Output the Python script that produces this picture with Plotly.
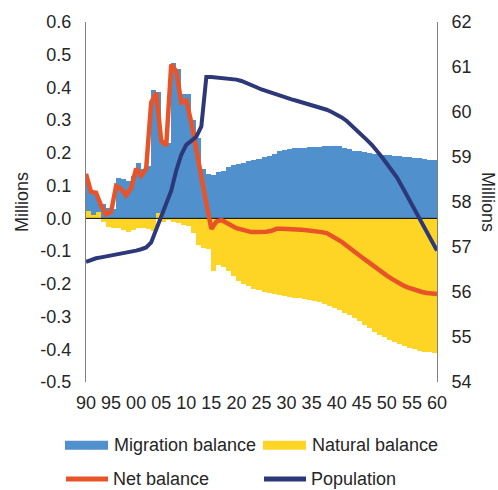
import plotly.graph_objects as go

years = list(range(1990, 2061))

migration = [0.087, 0.070, 0.040, 0.045, 0.032, 0.030, 0.123, 0.120, 0.115, 0.130,
             0.169, 0.152, 0.160, 0.392, 0.371, 0.240, 0.230, 0.475, 0.455, 0.379,
             0.380, 0.300, 0.245, 0.150, 0.136, 0.133, 0.143, 0.146, 0.157, 0.162,
             0.165, 0.170, 0.174, 0.177, 0.182, 0.187, 0.192, 0.197, 0.207, 0.210,
             0.212, 0.214, 0.215, 0.216, 0.217, 0.218, 0.219, 0.220, 0.221, 0.221,
             0.220, 0.216, 0.211, 0.207, 0.205, 0.203, 0.200, 0.198, 0.197, 0.195,
             0.193, 0.192, 0.190, 0.189, 0.187, 0.185, 0.183, 0.181, 0.179, 0.177,
             0.176]

natural = [0.022, 0.011, 0.020, -0.010, -0.025, -0.030, -0.028, -0.035, -0.042, -0.035,
           -0.030, -0.030, -0.032, -0.038, 0.015, -0.010, -0.005, -0.012, -0.015, -0.020,
           -0.022, -0.045, -0.081, -0.091, -0.095, -0.162, -0.143, -0.149, -0.162, -0.177,
           -0.190, -0.200, -0.208, -0.215, -0.220, -0.225, -0.228, -0.232, -0.234, -0.237,
           -0.239, -0.242, -0.244, -0.246, -0.249, -0.252, -0.256, -0.261, -0.267, -0.274,
           -0.281, -0.289, -0.296, -0.305, -0.315, -0.325, -0.336, -0.346, -0.356, -0.364,
           -0.371, -0.377, -0.383, -0.389, -0.395, -0.400, -0.404, -0.407, -0.409, -0.410,
           -0.410]

net = [0.136, 0.081, 0.078, 0.040, 0.012, 0.020, 0.099, 0.090, 0.071, 0.093,
       0.152, 0.130, 0.152, 0.354, 0.384, 0.238, 0.222, 0.470, 0.450, 0.354,
       0.360, 0.293, 0.210, 0.120, 0.045, -0.032, -0.010, -0.005, -0.015, -0.022,
       -0.030, -0.035, -0.040, -0.042, -0.042, -0.042, -0.041, -0.038, -0.032, -0.032,
       -0.032, -0.033, -0.034, -0.035, -0.036, -0.037, -0.039, -0.042, -0.045, -0.053,
       -0.062, -0.072, -0.084, -0.097, -0.108, -0.119, -0.130, -0.142, -0.154, -0.165,
       -0.175, -0.185, -0.195, -0.203, -0.210, -0.216, -0.221, -0.225, -0.228, -0.230,
       -0.231]

population = [56.67, 56.72, 56.75, 56.77, 56.79, 56.81, 56.83, 56.84, 56.86, 56.89,
              56.92, 56.95, 56.99, 57.10, 57.38, 57.68, 57.98, 58.25, 58.70, 59.05,
              59.27, 59.36, 59.45, 59.68, 60.78, 60.78, 60.77, 60.76, 60.75, 60.74,
              60.72, 60.69, 60.65, 60.60, 60.55, 60.50, 60.46, 60.42, 60.38, 60.35,
              60.31, 60.28, 60.25, 60.22, 60.18, 60.15, 60.12, 60.08, 60.05, 60.00,
              59.95, 59.88, 59.80, 59.70, 59.60, 59.50, 59.38, 59.27, 59.15, 59.00,
              58.85, 58.70, 58.55, 58.35, 58.15, 57.95, 57.75, 57.54, 57.35, 57.13,
              56.92]

x_ticks = list(range(1990, 2061, 5))
x_labels = ["90", "95", "00", "05", "10", "15", "20", "25", "30", "35", "40", "45", "50", "55", "60"]
y_ticks = [0.6, 0.5, 0.4, 0.3, 0.2, 0.1, 0.0, -0.1, -0.2, -0.3, -0.4, -0.5]
y_labels = ["0.6", "0.5", "0.4", "0.3", "0.2", "0.1", "0.0", "-0.1", "-0.2", "-0.3", "-0.4", "-0.5"]

BLUE = "#4f90cd"
YELLOW = "#fed524"
RED = "#e85428"
NAVY = "#2d3879"
TXT = "#262626"
FONT = "Liberation Sans, Arial, sans-serif"

W, H = 498, 490
L, R, T, B = 86, 61, 18, 108
PW, PH = W - L - R, H - T - B


def px(x):
    return (x - L) / PW


def py(y):
    return (H - B - y) / PH


fig = go.Figure()
# natural first so its positive values sit at the base of the stack
fig.add_trace(go.Bar(x=years, y=natural, name="Natural balance", marker=dict(color=YELLOW, line=dict(width=0)),
                     offset=0, width=1))
fig.add_trace(go.Bar(x=years, y=migration, name="Migration balance", marker=dict(color=BLUE, line=dict(width=0)),
                     offset=0, width=1))
fig.add_trace(go.Scatter(x=[years[0], years[-1]], y=[0, 0], mode="lines",
                         line=dict(color="black", width=1), hoverinfo="skip"))
fig.add_trace(go.Scatter(x=years, y=net, name="Net balance", mode="lines",
                         line=dict(color=RED, width=4.5)))
fig.add_trace(go.Scatter(x=years, y=population, name="Population", mode="lines", yaxis="y2",
                         line=dict(color=NAVY, width=4)))

# hand-made legend (two columns, wide swatches)
legend_rows = [
    ("Migration balance", BLUE, "rect", 65, 446),
    ("Natural balance", YELLOW, "rect", 263, 446),
    ("Net balance", RED, "line", 64, 480),
    ("Population", NAVY, "line", 262, 480),
]
shapes = []
annotations = []
for label, col, kind, x0, yc in legend_rows:
    if kind == "rect":
        shapes.append(dict(type="rect", xref="paper", yref="paper", x0=px(x0), x1=px(x0 + 43),
                           y0=py(yc - 4.5), y1=py(yc + 4.5), fillcolor=col, line=dict(width=0)))
    else:
        shapes.append(dict(type="line", xref="paper", yref="paper", x0=px(x0 + 2), x1=px(x0 + 44),
                           y0=py(yc), y1=py(yc), line=dict(color=col, width=5)))
    annotations.append(dict(text=label, xref="paper", yref="paper", x=px(x0 + 47), y=py(yc),
                            xanchor="left", yanchor="middle", showarrow=False,
                            font=dict(size=18, color=TXT, family=FONT)))

annotations.append(dict(text="Millions", xref="paper", yref="paper", x=px(22), y=py(200),
                        textangle=-90, showarrow=False, xanchor="center", yanchor="middle",
                        font=dict(size=18, color=TXT, family=FONT)))
annotations.append(dict(text="Millions", xref="paper", yref="paper", x=px(488), y=py(200),
                        textangle=90, showarrow=False, xanchor="center", yanchor="middle",
                        font=dict(size=18, color=TXT, family=FONT)))

fig.update_layout(
    width=W, height=H,
    margin=dict(l=L, r=R, t=T, b=B),
    paper_bgcolor="white", plot_bgcolor="white",
    barmode="relative", bargap=0,
    showlegend=False,
    font=dict(family=FONT, size=18, color=TXT),
    xaxis=dict(range=[1990, 2060], tickvals=x_ticks, ticktext=x_labels, showgrid=False,
               zeroline=False, showline=False, ticks="", ticklabelstandoff=8,
               tickfont=dict(size=18, color=TXT)),
    yaxis=dict(range=[-0.5, 0.6], tickvals=y_ticks, ticktext=y_labels, showgrid=False,
               zeroline=False, showline=True, linecolor="#808080", linewidth=1, ticks="",
               ticklabelstandoff=10, tickfont=dict(size=18, color=TXT)),
    yaxis2=dict(range=[54, 62], dtick=1, overlaying="y", side="right", showgrid=False,
                zeroline=False, showline=True, linecolor="#808080", linewidth=1, ticks="",
                ticklabelstandoff=10, tickfont=dict(size=18, color=TXT)),
    shapes=shapes,
    annotations=annotations,
)

fig.write_html("out.html", config={"displayModeBar": False},
               post_script="document.body.style.margin='0px';")
